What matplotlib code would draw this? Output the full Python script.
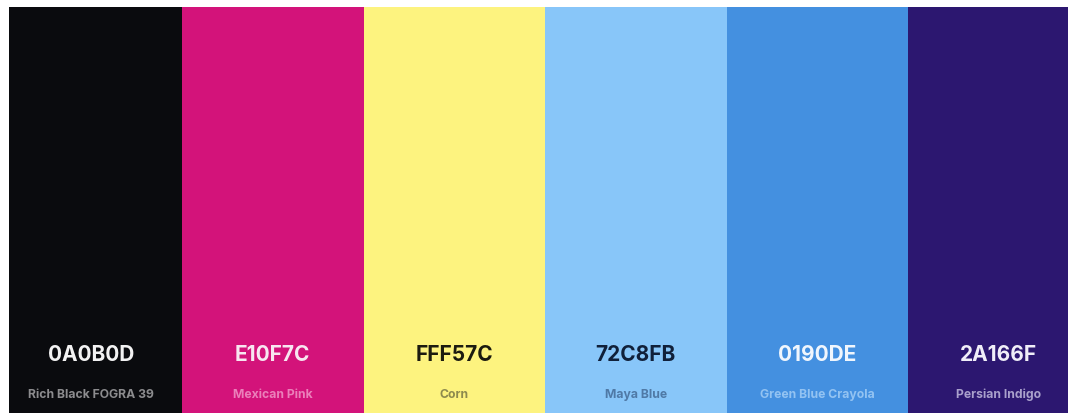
#!/usr/bin/env python3
"""Colour palette swatches"""
import matplotlib.pyplot as plt

hex_codes = ['0A0B0D', 'E10F7C', 'FFF57C', '72C8FB', '0190DE', '2A166F']
names = ['Rich Black FOGRA 39', 'Mexican Pink', 'Corn', 'Maya Blue',
         'Green Blue Crayola', 'Persian Indigo']
# colours as they appear in the picture
fills = ['#0a0b0e', '#d3137a', '#fdf37f', '#88c6f9', '#4490e0', '#2c1770']
code_colors = ['#f2f2f2', '#f7e6f0', '#1c1b10', '#10203a', '#f0f6fd', '#f0eef8']
name_colors = ['#8c8c8e', '#eb80ba', '#8d8a4e', '#4f79a6', '#93c3f2', '#a9a0cc']

plt.rcParams['font.family'] = ['Inter', 'DejaVu Sans']

fig = plt.figure(figsize=(10.68, 4.13), dpi=100)
ax = fig.add_axes([9 / 1068, 0, 1 - 9 / 1068, 406 / 413])

pos = list(range(len(hex_codes)))
ax.bar(pos, [1] * len(pos), width=1.0, align='edge', color=fills,
       linewidth=0)

for i in pos:
    ax.text(i + 0.5, 0.143, hex_codes[i], ha='center', va='center',
            fontsize=15, fontweight='bold', color=code_colors[i])
    ax.text(i + 0.5, 0.045, names[i], ha='center', va='center',
            fontsize=8.8, fontweight='bold', color=name_colors[i])

# the palette image is cropped on both sides
ax.set_xlim(8.5 / 181.5, 1067.5 / 181.5)
ax.set_ylim(0, 1)
ax.axis('off')

fig.savefig('out.png', dpi=100)
